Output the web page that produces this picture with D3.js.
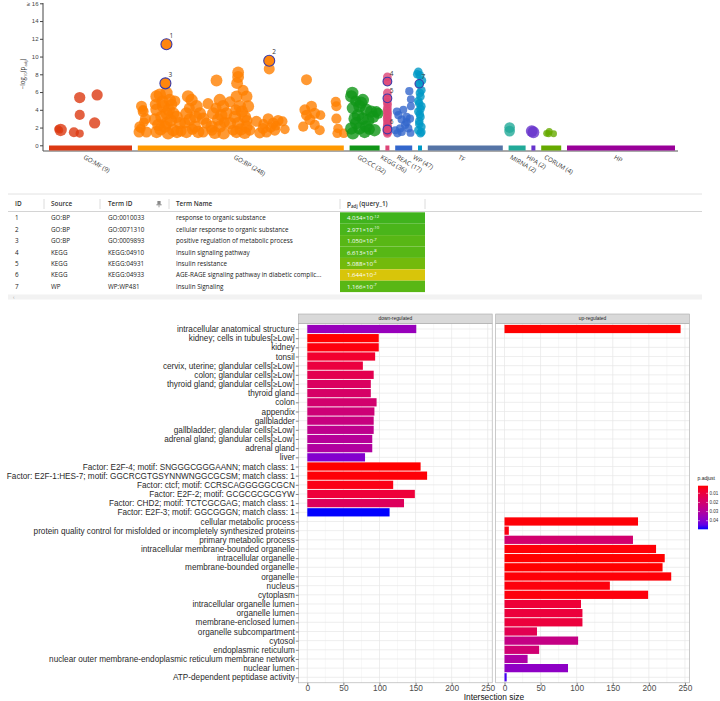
<!DOCTYPE html>
<html><head><meta charset="utf-8">
<script src="https://cdn.jsdelivr.net/npm/d3@7"></script>
<style>body{margin:0;background:#fff}svg{display:block}</style>
</head><body>
<svg id="c" width="720" height="701"></svg>
<script>
// ---------------- Manhattan (g:Profiler) data ----------------
const sources = ["GO:MF","GO:BP","GO:CC","KEGG","REAC","WP","TF","MIRNA","HPA","CORUM","HP"];
const sourceCounts = [9,248,32,36,17,47,null,2,2,4,null];
const sourceColors = ["#dc3912","#ff9900","#109618","#dd4477","#3366cc","#0099c6","#5574a6","#22aa99","#6633cc","#66aa00","#990099"];
const sourceSpan = [83,206,30,4,17,4,75,17,4,20,108];
const yTicks = [0,2,4,6,8,10,12,14,16];
// points: [position within source (0-100), -log10(padj), size]
const mfPoints = [[14,1.73,3],[11,1.85,1.2],[30,1.47,2.2],[37,1.32,1.5],[37,5.38,2.6],[37,3.42,2.2],[55,2.52,2.6],[58,5.68,2.6],[13,1.7,1]];
const bpPoints = [
 [0.6,1.5,2.5],[1,2.1,2.5],[1.8,4.4,2.5],[2.6,3.8,2.5],[3.7,3.0,2.5],[4.2,1.5,2.5],[1.5,1.9,2],[3,2.6,2],[2.5,4.0,2],
 [9.1,5.5,3],[10.7,5.7,3],[13.9,5.9,3],[15.5,5.1,3],[9.1,4.0,3],[12.3,4.4,3],[17.2,3.6,3],[8.3,2.9,3],[11.5,3.2,3],[13.9,2.5,3],
 [18.8,3.2,3],[9.1,1.5,3],[13.1,2.1,3],[17.2,1.7,3],[20.4,2.5,3],[14.7,1.35,3],[11,1.8,3],[16,2.8,3],[19,1.5,3],[12,4.9,3],
 [15,4.0,3],[10,2.3,3],[21,1.6,2.5],[18,5.0,2.5],[8.5,4.6,2.5],[14,3.6,3],[16.5,4.6,2.5],
 [24.4,5.5,3],[26.1,5.1,3],[28.5,4.4,3],[23.6,3.6,3],[30.1,3.6,3],[25.2,2.9,3],[27.7,2.1,3],[31.7,3.0,3],[23.6,1.5,3],
 [29.3,1.5,3],[31.7,1.5,2.5],[33.3,2.5,2.5],[22.8,2.5,2.5],[26.5,1.8,2.5],[25,4.2,2.5],[28,3.2,3],
 [34.1,4.7,2.5],[38.2,7.3,2.8],[39.8,5.1,3],[41.4,4.4,3],[44.7,4.9,2.5],[36.6,3.6,3],[39,2.9,3],[43,3.6,3],[35.8,2.1,3],
 [39.8,2.1,3],[44.7,2.5,3],[37.4,1.4,3],[41.7,1.35,3],[46.3,1.7,2.5],[42,2.6,2.5],[38,4.2,2.5],[36,1.7,2.5],[40.5,3.4,3],
 [48.7,8.2,2.8],[48.7,7.7,2.8],[48.2,7.0,2.8],[51.1,6.2,2.5],[52.8,5.5,2.8],[47.9,5.5,2.8],[49.5,4.4,3],[53.6,4.4,2.8],[47.1,3.2,3],
 [51.9,3.2,3],[48.7,2.5,3],[52.8,2.1,3],[47.9,1.5,3],[51.9,1.4,3],[54.4,1.7,2.5],[50,1.8,3],[50.5,3.8,3],[47.5,4.0,2.5],[53,2.8,2.5],
 [57.6,2.7,2.5],[60.8,1.9,2.5],[63.3,3.0,2.5],[63.8,8.6,2.5],[65.7,2.5,2.5],[68.1,2.8,2.5],[70.2,2.7,2.2],[71.4,1.8,2],
 [62.5,1.5,2.5],[59.2,1.4,2.5],[66.5,1.7,2.5],[61,2.4,2.2],[64.5,2.0,2.2],[67,2.2,2],
 [81.9,7.4,2.5],[81.1,4.0,2.5],[84.3,4.4,2.5],[81.9,3.4,2.5],[85.9,3.6,2.5],[88.7,3.4,2],[80.3,2.1,2.2],[85.9,2.3,2.2],
 [88.3,1.7,2.2],[83.5,2.9,2.5],
 [96.1,4.9,2.2],[96.4,4.4,2.2],[96.4,3.0,2.2],[97.2,1.9,2],[96.8,1.35,2],[100,1.35,2]];
const ccPoints = [[8.9,5.9,3],[5.6,5.5,3],[44,5.1,3],[33,4.4,3],[11,4.2,3],[55.6,4.0,3],[27.8,3.4,3],[72,3.8,3],[89,3.8,2.5],
 [16.7,3.0,3],[44,3.0,3],[78,3.2,3],[5.6,1.9,3],[33,1.9,3],[55.6,2.1,3],[83,1.7,3],[11,1.35,3],[50,1.5,3],[22,2.5,3],
 [62,2.8,3],[38,4.8,3],[20,5.0,2.5],[66,1.8,2.5],[95,3.6,2.5]];
const keggPoints = [[50,7.7,1.7],[50,5.9,1.7],[45,4.9,1.7],[55,4.6,1.7],[50,4.2,1.7],[45,3.9,1.7],[55,3.6,1.7],[50,3.3,1.7],
 [45,3.0,1.7],[55,2.7,1.7],[50,2.4,1.7],[45,2.1,1.7],[55,1.5,1.7],[50,1.35,1.7],[40,1.6,1.7],[60,2.0,1.7]];
const reacPoints = [[83,6.1,1.5],[92,5.2,1.4],[92,4.4,1.4],[10,3.8,1.5],[48,4.0,1.4],[19,3.4,1.5],[67,3.2,1.5],[87,3.0,1.5],
 [38,2.9,1.5],[58,2.3,1.5],[29,1.9,1.5],[77,1.9,1.5],[13,1.35,1.5],[90,1.4,1.4],[38,1.5,1.5],[67,2.6,1.5],[0,1.7,1.4]];
const wpPoints = [[8,8.3,1.6],[46,7.9,1.6],[85,6.2,1.6],[62,5.5,1.6],[31,4.7,1.6],[85,4.4,1.6],[8,3.8,1.6],[62,3.2,1.6],
 [31,2.7,1.6],[85,2.1,1.6],[8,1.7,1.6],[62,1.35,1.6],[46,5.9,1.6],[46,3.5,1.6],[31,2.4,1.6],[62,4.1,1.6],[8,5.0,1.6],
 [85,1.5,1.6],[-20,8.0,1.6],[100,7.3,1.6]];
const mirnaPoints = [[6,2.0,2.4],[6,1.6,2.4]];
const hpaPoints = [[8,1.6,2.8],[50,1.47,2.8]];
const corumPoints = [[27,1.35,1],[40,1.55,1.1],[62,1.3,1],[37,1.3,1]];

// ---------------- Table data ----------------
const tableIds = [1,2,3,4,5,6,7];
const tableSources = ["GO:BP","GO:BP","GO:BP","KEGG","KEGG","KEGG","WP"];
const tableTermIds = ["GO:0010033","GO:0071310","GO:0009893","KEGG:04910","KEGG:04931","KEGG:04933","WP:WP481"];
const tableTermNames = ["response to organic substance","cellular response to organic substance","positive regulation of metabolic process","Insulin signaling pathway","Insulin resistance","AGE-RAGE signaling pathway in diabetic complic...","Insulin Signaling"];
const tablePadj = [4.034e-12,2.971e-10,1.050e-7,6.613e-8,5.088e-6,1.644e-2,1.166e-7];
const highlightPos = [13.9,63.8,13.4,50,50,50,31];
const highlightSize = [2.5,2.5,2.5,1.7,1.7,1.7,1.6];

// ---------------- Bar chart data ----------------
const categories = ["intracellular anatomical structure","kidney; cells in tubules[\u2265Low]","kidney","tonsil",
 "cervix, uterine; glandular cells[\u2265Low]","colon; glandular cells[\u2265Low]","thyroid gland; glandular cells[\u2265Low]",
 "thyroid gland","colon","appendix","gallbladder","gallbladder; glandular cells[\u2265Low]","adrenal gland; glandular cells[\u2265Low]",
 "adrenal gland","liver","Factor: E2F-4; motif: SNGGGCGGGAANN; match class: 1",
 "Factor: E2F-1:HES-7; motif: GGCRCGTGSYNNWNGGCGCSM; match class: 1","Factor: ctcf; motif: CCRSCAGGGGGCGCN",
 "Factor: E2F-2; motif: GCGCGCGCGYW","Factor: CHD2; motif: TCTCGCGAG; match class: 1","Factor: E2F-3; motif: GGCGGGN; match class: 1",
 "cellular metabolic process","protein quality control for misfolded or incompletely synthesized proteins","primary metabolic process",
 "intracellular membrane-bounded organelle","intracellular organelle","membrane-bounded organelle","organelle","nucleus","cytoplasm",
 "intracellular organelle lumen","organelle lumen","membrane-enclosed lumen","organelle subcompartment","cytosol",
 "endoplasmic reticulum","nuclear outer membrane-endoplasmic reticulum membrane network","nuclear lumen","ATP-dependent peptidase activity"];
const downCounts = [151,99,99,94,77,92,88,88,96,93,92,92,90,90,80,157,166,119,149,134,114,
 null,null,null,null,null,null,null,null,null,null,null,null,null,null,null,null,null,null];
const downPadj = [0.0360,0.0017,0.0027,0.0074,0.0103,0.0136,0.0170,0.0184,0.0198,0.0217,0.0236,0.0265,0.0289,0.0303,0.0399,
 0.0017,0.0022,0.0036,0.0093,0.0160,0.0494,
 null,null,null,null,null,null,null,null,null,null,null,null,null,null,null,null,null,null];
const upCounts = [244,null,null,null,null,null,null,null,null,null,null,null,null,null,null,null,null,null,null,null,null,
 185,6,178,210,222,219,231,146,199,106,108,108,45,102,48,32,88,3];
const upPadj = [0.0017,null,null,null,null,null,null,null,null,null,null,null,null,null,null,null,null,null,null,null,null,
 0.0022,0.0031,0.0198,0.0022,0.0017,0.0017,0.0022,0.0027,0.0027,0.0089,0.0098,0.0098,0.0141,0.0246,0.0208,0.0313,0.0380,0.0470];
const facetNames = ["down-regulated","up-regulated"];
const xTickVals = [0,50,100,150,200,250];
const legendTicks = [0.01,0.02,0.03,0.04];

const svg = d3.select("#c");

// ================= Manhattan =================
const gapUnits = 5.8;
const segStart = []; let acc = 0;
sourceSpan.forEach(s => { segStart.push(acc); acc += s + gapUnits; });
const totalUnits = acc - gapUnits;
const xM = d3.scaleLinear().domain([0, totalUnits]).range([49, 675]);
const yM = d3.scaleLinear().domain([0, 16]).range([145.3, 3.3]);
const rM = s => 2 + s * 1.4;
const posX = (si, p) => xM(segStart[si] + p / 100 * sourceSpan[si]);

const gM = svg.append("g").attr("font-family", "'Open Sans', 'DejaVu Sans', sans-serif");
const yAx = gM.append("g").attr("transform", "translate(43,0)")
  .call(d3.axisLeft(yM).tickValues(yTicks).tickSize(3).tickSizeOuter(0).tickFormat(d => d === 16 ? "\u2265 16" : d));
yAx.select(".domain").remove();
yAx.selectAll("line").attr("stroke", "#444");
yAx.selectAll("text").attr("font-size", 6).attr("fill", "#444").attr("x", -4.5);
gM.append("line").attr("x1", 43).attr("x2", 43).attr("y1", 3).attr("y2", 151).attr("stroke", "#444").attr("stroke-width", 1);
gM.append("line").attr("x1", 43).attr("x2", 678).attr("y1", 151).attr("y2", 151).attr("stroke", "#555").attr("stroke-width", 1);
const yt = gM.append("text").attr("transform", "translate(25,74) rotate(-90)").attr("text-anchor", "middle")
  .attr("font-size", 6.2).attr("fill", "#333");
yt.append("tspan").text("\u2212log");
yt.append("tspan").attr("font-size", 4.3).attr("dy", 1.5).text("10");
yt.append("tspan").attr("dy", -1.5).text("(p");
yt.append("tspan").attr("font-size", 4.3).attr("dy", 1.5).text("adj");
yt.append("tspan").attr("dy", -1.5).text(")");

sources.forEach((s, i) => {
  const x0 = xM(segStart[i]), x1 = xM(segStart[i] + sourceSpan[i]);
  gM.append("rect").attr("x", x0).attr("y", 145.5).attr("width", x1 - x0).attr("height", 5)
    .attr("fill", sourceColors[i]);
  const c = (x0 + x1) / 2;
  gM.append("text").attr("transform", `translate(${c - 7.5},158.5) rotate(30)`)
    .attr("font-size", 6.3).attr("fill", "#333")
    .text(sourceCounts[i] != null ? `${s} (${sourceCounts[i]})` : s);
});

const allPts = [];
[[0, mfPoints], [1, bpPoints], [2, ccPoints], [3, keggPoints], [4, reacPoints], [5, wpPoints], [7, mirnaPoints], [8, hpaPoints], [9, corumPoints]]
  .forEach(([si, arr]) => arr.forEach(p => allPts.push({ si, pos: p[0], val: p[1], size: p[2] })));
const pointColor = si => si === 1 ? "#ff8000" : sourceColors[si];
gM.append("g").selectAll("circle").data(allPts).join("circle")
  .attr("cx", d => posX(d.si, d.pos)).attr("cy", d => yM(d.val)).attr("r", d => rM(d.size))
  .attr("fill", d => pointColor(d.si)).attr("fill-opacity", 0.8);

tableIds.forEach((id, i) => {
  const si = sources.indexOf(tableSources[i]);
  const cx = posX(si, highlightPos[i]), v = -Math.log10(tablePadj[i]), cy = yM(v), r = rM(highlightSize[i]);
  gM.append("circle").attr("cx", cx).attr("cy", cy).attr("r", r)
    .attr("fill", pointColor(si)).attr("fill-opacity", 0.95)
    .attr("stroke", "#3a3aa8").attr("stroke-width", 1.1);
  gM.append("text").attr("x", cx + r * 0.55).attr("y", cy - r - 0.8).attr("font-size", 6.5).attr("fill", "#333").text(id);
});

// ================= Table =================
const gT = svg.append("g").attr("font-family", "'Open Sans', 'Noto Sans', sans-serif");
const rowY = d3.scaleBand().domain(tableIds).range([212.3, 292.1]);
gT.append("line").attr("x1", 8).attr("x2", 702).attr("y1", 194).attr("y2", 194).attr("stroke", "#e2e2e2");
gT.append("line").attr("x1", 8).attr("x2", 702).attr("y1", 211.5).attr("y2", 211.5).attr("stroke", "#d4d4d4");
[44, 100, 169, 340, 425].forEach(x => {
  gT.append("line").attr("x1", x).attr("x2", x).attr("y1", 199).attr("y2", 209).attr("stroke", "#dcdcdc");
});
const colX = [15, 51, 108, 176, 347];
const hdr = ["ID", "Source", "Term ID", "Term Name"];
hdr.forEach((h, i) => gT.append("text").attr("x", colX[i]).attr("y", 206.3).attr("font-size", 6.4)
  .attr("font-weight", 600).attr("fill", "#333").text(h));
const ph = gT.append("text").attr("x", colX[4]).attr("y", 206.3).attr("font-size", 6.4).attr("font-weight", 600).attr("fill", "#333");
ph.append("tspan").text("p");
ph.append("tspan").attr("font-size", 4.5).attr("dy", 1.3).text("adj");
ph.append("tspan").attr("dy", -1.3).text(" (query_1)");
const ic = gT.append("g").attr("transform", "translate(159,204)").attr("fill", "#888");
ic.append("rect").attr("x", -1.6).attr("y", -3).attr("width", 3.2).attr("height", 3.4);
ic.append("rect").attr("x", -2.6).attr("y", 0.3).attr("width", 5.2).attr("height", 1);
ic.append("rect").attr("x", -0.4).attr("y", 1.3).attr("width", 0.8).attr("height", 2);

const cellColor = d3.scaleLinear().domain([1.3, 5, 7, 12]).range(["#e6c60a", "#78bb0b", "#58b715", "#3db31e"]);
tableIds.forEach((id, i) => {
  const y = rowY(id), h = rowY.bandwidth(), cy = y + h / 2 + 2.3;
  gT.append("rect").attr("x", 340).attr("y", y).attr("width", 85).attr("height", h)
    .attr("fill", cellColor(-Math.log10(tablePadj[i])));
  gT.append("text").attr("x", colX[0]).attr("y", cy).attr("font-size", 6.3).attr("fill", "#222").text(id);
  gT.append("text").attr("x", colX[1]).attr("y", cy).attr("font-size", 6.3).attr("fill", "#222").text(tableSources[i]);
  gT.append("text").attr("x", colX[2]).attr("y", cy).attr("font-size", 6.3).attr("fill", "#222").text(tableTermIds[i]);
  gT.append("text").attr("x", colX[3]).attr("y", cy).attr("font-size", 6.3).attr("fill", "#222").text(tableTermNames[i]);
  const e = Math.floor(Math.log10(tablePadj[i])), m = tablePadj[i] / Math.pow(10, e);
  const t = gT.append("text").attr("x", colX[4]).attr("y", cy).attr("font-size", 6.1).attr("fill", "#fff");
  t.append("tspan").text(m.toFixed(3) + "\u00d710");
  t.append("tspan").attr("font-size", 4.2).attr("dy", -2.6).text("-" + Math.abs(e));
});
gT.append("rect").attr("x", 8).attr("y", 294.5).attr("width", 694).attr("height", 5).attr("fill", "#f2f2f2");
gT.append("text").attr("x", 13).attr("y", 299).attr("font-size", 5).attr("fill", "#999").text("\u2039");

// ================= Bar chart =================
const gB = svg.append("g").attr("font-family", "'Liberation Sans', Arial, sans-serif");
const maxC = d3.max(downCounts.concat(upCounts));
const padC = 0.05 * maxC;
const panels = [
  { name: facetNames[0], counts: downCounts, padj: downPadj, range: [298.5, 492.2] },
  { name: facetNames[1], counts: upCounts, padj: upPadj, range: [495.7, 689.4] }];
const yB = d3.scalePoint().domain(categories).range([323.5, 682.8]).padding(0.6);
const barH = 0.9 * yB.step();
const allP = downPadj.concat(upPadj).filter(v => v != null);
const pExt = d3.extent(allP);
const fillScale = d3.scaleLinear().domain(pExt).range(["red", "blue"]).interpolate(d3.interpolateLab);

panels.forEach(P => {
  const x = d3.scaleLinear().domain([-padC, maxC + padC]).range(P.range);
  const [x0, x1] = P.range;
  const pg = gB.append("g");
  pg.append("rect").attr("x", x0).attr("y", 323.5).attr("width", x1 - x0).attr("height", 359.3).attr("fill", "#fff");
  [25, 75, 125, 175, 225].forEach(v => pg.append("line").attr("x1", x(v)).attr("x2", x(v)).attr("y1", 323.5).attr("y2", 682.8)
    .attr("stroke", "#ececec").attr("stroke-width", 0.35));
  xTickVals.forEach(v => pg.append("line").attr("x1", x(v)).attr("x2", x(v)).attr("y1", 323.5).attr("y2", 682.8)
    .attr("stroke", "#e6e6e6").attr("stroke-width", 0.7));
  categories.forEach(c => pg.append("line").attr("x1", x0).attr("x2", x1).attr("y1", yB(c)).attr("y2", yB(c))
    .attr("stroke", "#e6e6e6").attr("stroke-width", 0.7));
  const data = categories.map((c, i) => ({ c, n: P.counts[i], p: P.padj[i] })).filter(d => d.n != null);
  pg.selectAll(".bar").data(data).join("rect").attr("class", "bar")
    .attr("x", x(0)).attr("y", d => yB(d.c) - barH / 2).attr("width", d => x(d.n) - x(0)).attr("height", barH)
    .attr("fill", d => fillScale(d.p));
  pg.append("rect").attr("x", x0).attr("y", 323.5).attr("width", x1 - x0).attr("height", 359.3)
    .attr("fill", "none").attr("stroke", "#a8a8a8").attr("stroke-width", 0.6);
  pg.append("rect").attr("x", x0).attr("y", 314).attr("width", x1 - x0).attr("height", 9.3)
    .attr("fill", "#d9d9d9").attr("stroke", "#a8a8a8").attr("stroke-width", 0.6);
  pg.append("text").attr("x", (x0 + x1) / 2).attr("y", 320.4).attr("text-anchor", "middle").attr("font-size", 4.9)
    .attr("fill", "#1a1a1a").text(P.name);
  const xa = pg.append("g").attr("transform", "translate(0,682.8)")
    .call(d3.axisBottom(x).tickValues(xTickVals).tickSize(2.7).tickSizeOuter(0));
  xa.select(".domain").remove();
  xa.selectAll("line").attr("stroke", "#333").attr("stroke-width", 0.6);
  xa.selectAll("text").attr("font-size", 8.3).attr("fill", "#4d4d4d").attr("font-family", "'Liberation Sans', Arial, sans-serif")
    .attr("y", 2.6).attr("dy", "0.71em");
});
const ya = gB.append("g").attr("transform", "translate(298.5,0)")
  .call(d3.axisLeft(yB).tickSize(2.7).tickSizeOuter(0));
ya.select(".domain").remove();
ya.selectAll("line").attr("stroke", "#333").attr("stroke-width", 0.6);
ya.selectAll("text").attr("font-size", 8.2).attr("fill", "#2a2a2a").attr("font-family", "'Liberation Sans', Arial, sans-serif")
  .attr("x", -3.7);
gB.append("text").attr("x", 493.9).attr("y", 699.8).attr("text-anchor", "middle").attr("font-size", 8.4)
  .attr("fill", "#111").text("Intersection size");

const lg = gB.append("g");
lg.append("text").attr("x", 697.5).attr("y", 480).attr("font-size", 5).attr("fill", "#222").text("p.adjust");
const defs = svg.append("defs");
const grad = defs.append("linearGradient").attr("id", "pg").attr("x1", 0).attr("x2", 0).attr("y1", 0).attr("y2", 1);
d3.range(0, 1.0001, 0.1).forEach(t => grad.append("stop").attr("offset", t)
  .attr("stop-color", fillScale(pExt[0] + t * (pExt[1] - pExt[0]))));
const lgY = d3.scaleLinear().domain(pExt).range([485.7, 529.3]);
lg.append("rect").attr("x", 698).attr("y", 485.7).attr("width", 10).attr("height", 43.6).attr("fill", "url(#pg)");
legendTicks.forEach(v => {
  lg.append("line").attr("x1", 698).attr("x2", 700).attr("y1", lgY(v)).attr("y2", lgY(v)).attr("stroke", "#fff").attr("stroke-width", 0.5);
  lg.append("line").attr("x1", 706).attr("x2", 708).attr("y1", lgY(v)).attr("y2", lgY(v)).attr("stroke", "#fff").attr("stroke-width", 0.5);
  lg.append("text").attr("x", 709.5).attr("y", lgY(v) + 1.6).attr("font-size", 4.5).attr("fill", "#333").text(v.toFixed(2));
});
</script></body></html>
